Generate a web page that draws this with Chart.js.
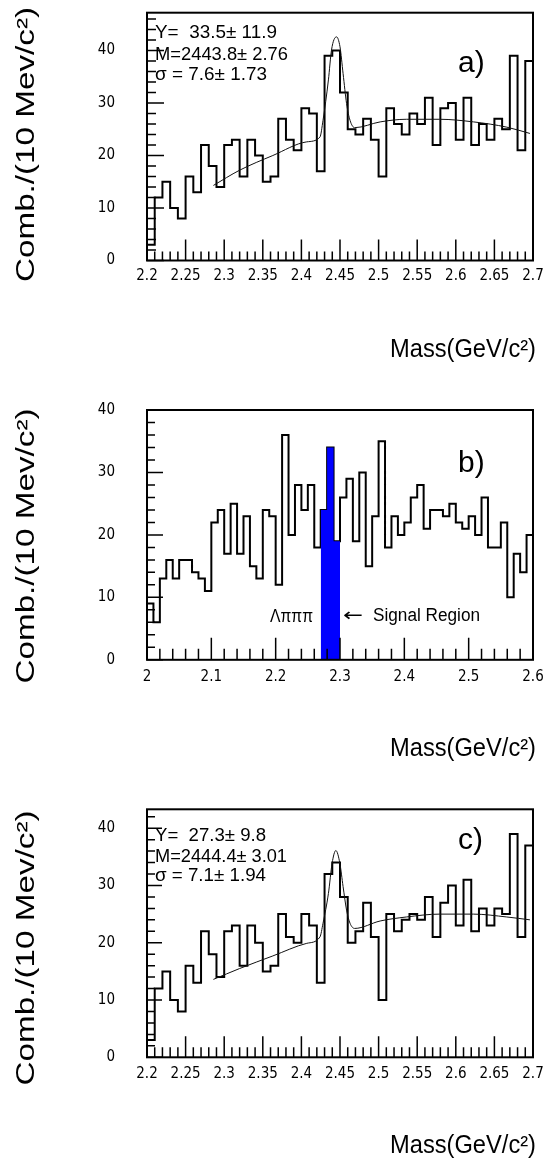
<!DOCTYPE html>
<html>
<head>
<meta charset="utf-8">
<script src="https://cdn.jsdelivr.net/npm/chart.js@4.4.1/dist/chart.umd.min.js"></script>
<style>
html,body{margin:0;padding:0;background:#fff;}
body{width:548px;height:1161px;position:relative;overflow:hidden;}
canvas{position:absolute;left:0;}
</style>
</head>
<body>
<canvas id="ca" width="548" height="380" style="top:0px"></canvas>
<canvas id="cb" width="548" height="390" style="top:380px"></canvas>
<canvas id="cc" width="548" height="391" style="top:770px"></canvas>
<script>
// ---------------- DATA ----------------
const binWidth = 0.01;             // 10 MeV/c^2 bins
// Panel a
const binLowA = 2.2;
const countsA = [3,12,15,10,8,16,13,22,18,14,22,23,16,23,20,15,16,27,23,21,29,28,17,39,40,
                 32,25,24,27,23,16,29,26,24,28,26,31,22,29,30,23,31,22,26,23,27,25,39,21,38];
const fitMassA = [2.286,2.32,2.363,2.407,2.424,2.428,2.435,2.439,2.4455,2.45,2.454,2.4585,2.463,2.469,2.502,2.536,2.579,2.623,2.666,2.696];
const fitValA  = [14.3,17.2,20.0,22.6,23.5,26.7,34.4,40.1,42.6,40.7,35.6,29.9,26.7,25.3,26.4,26.9,26.9,26.4,25.4,24.2];
const statA = ['Y=  33.5\u00b1 11.9', 'M=2443.8\u00b1 2.76', '\u03c3 = 7.6\u00b1 1.73'];
// Panel b
const binLowB = 2.0;
const countsB = [9,6,13,16,13,16,16,14,13,11,22,24,17,25,17,23,15,13,24,23,
                 12,36,20,28,24,28,18,24,34,19,26,29,19,30,15,23,35,18,23,20,
                 22,26,28,21,24,24,23,25,22,21,23,20,26,18,18,22,10,17,14,20];
const signalLo = 2.27, signalHi = 2.30;
// Panel c
const binLowC = 2.2;
const countsC = [3,12,15,10,8,16,13,22,18,14,22,23,16,23,20,15,16,25,21,20,25,23,13,32,34,
                 28,20,22,27,21,10,25,22,24,25,24,28,21,27,30,23,31,22,26,23,26,25,39,21,37];
const fitMassC = [2.286,2.32,2.363,2.407,2.424,2.428,2.435,2.4398,2.4446,2.4498,2.454,2.4585,2.463,2.469,2.502,2.536,2.579,2.623,2.666,2.696];
const fitValC  = [13.6,15.5,17.7,19.9,21.0,23.4,28.6,33.9,36.1,33.9,29.8,25.7,23.4,22.5,23.8,24.5,25.0,25.0,24.5,24.0];
const statC = ['Y=  27.3\u00b1 9.8', 'M=2444.4\u00b1 3.01', '\u03c3 = 7.1\u00b1 1.94'];
// Ticks
const xTicksAC = [2.2,2.25,2.3,2.35,2.4,2.45,2.5,2.55,2.6,2.65,2.7];
const xLabelsAC = ['2.2','2.25','2.3','2.35','2.4','2.45','2.5','2.55','2.6','2.65','2.7'];
const xTicksB = [2.0,2.1,2.2,2.3,2.4,2.5,2.6];
const xLabelsB = ['2','2.1','2.2','2.3','2.4','2.5','2.6'];
const yTicks = [0,10,20,30,40];
const yLabels = ['0','10','20','30','40'];
const yTitle = 'Comb./(10 Mev/c\u00b2)';
const xTitle = 'Mass(GeV/c\u00b2)';

// ---------------- HELPERS ----------------
const TICK_FONT = {family: '"Liberation Sans Narrow", "DejaVu Sans Condensed", "Liberation Sans", sans-serif', size: 15};
const TXT_FONT = '18px "Liberation Sans", Arial, sans-serif';
const BIG_FONT = '30px "Liberation Sans", Arial, sans-serif';
const TITLE_FONT = '26px "Liberation Sans", Arial, sans-serif';
const ARROW_FONT = '18px "DejaVu Sans", sans-serif';

function histPoints(lo, w, counts) {
  const pts = counts.map((c, i) => ({x: lo + i * w, y: c}));
  pts.push({x: lo + counts.length * w, y: counts[counts.length - 1]});
  return pts;
}
function curvePoints(xs, ys) { return xs.map((x, i) => ({x: x, y: ys[i]})); }

function drawText(ctx, t, offY) {
  ctx.save();
  ctx.font = t.font;
  ctx.fillStyle = '#000';
  ctx.textAlign = t.align || 'left';
  ctx.textBaseline = t.baseline || 'middle';
  ctx.translate(t.x, t.y - offY);
  if (t.rotate) ctx.rotate(t.rotate);
  if (t.width) { const w = ctx.measureText(t.text).width; ctx.scale(t.width / w, 1); }
  ctx.fillText(t.text, 0, 0);
  ctx.restore();
}

function overlay(o) {
  return {
    id: 'overlay',
    afterDatasetsDraw(chart) {
      const ctx = chart.ctx, a = chart.chartArea, xs = chart.scales.x, ys = chart.scales.y;
      ctx.save();
      ctx.strokeStyle = '#000';
      ctx.lineWidth = 1.5;
      ctx.beginPath();
      for (let i = 0; ; i++) {
        const v = o.yMin + i * o.yMinor;
        if (v > o.yMax + 1e-9) break;
        const py = ys.getPixelForValue(v);
        const len = (i % o.yRatio === 0) ? o.yMajLen : o.yMinLen;
        ctx.moveTo(a.left, py); ctx.lineTo(a.left + len, py);
      }
      for (let i = 0; ; i++) {
        const v = o.xMin + i * o.xMinor;
        if (v > o.xMax + 1e-9) break;
        const px = xs.getPixelForValue(v);
        const len = (i % o.xRatio === 0) ? o.xMajLen : o.xMinLen;
        ctx.moveTo(px, a.bottom); ctx.lineTo(px, a.bottom - len);
      }
      ctx.stroke();
      ctx.lineWidth = 2;
      ctx.strokeRect(a.left, a.top, a.right - a.left, a.bottom - a.top);
      ctx.restore();
    },
    afterDraw(chart) {
      o.texts.forEach(t => drawText(chart.ctx, t, o.offY));
    }
  };
}

function makeChart(id, o) {
  return new Chart(document.getElementById(id), {
    type: 'line',
    data: {datasets: o.datasets},
    options: {
      responsive: false, animation: false, events: [],
      layout: {padding: {left: 0, right: 15, top: o.padTop, bottom: 0}},
      plugins: {legend: {display: false}, tooltip: {enabled: false}},
      scales: {
        x: {
          type: 'linear', min: o.xMin, max: o.xMax,
          grid: {display: false, drawTicks: false}, border: {display: false},
          afterFit: s => { s.height = o.xAxisH; s.paddingLeft = 0; s.paddingRight = 0; },
          afterBuildTicks: s => { s.ticks = o.xTicks.map(v => ({value: v})); },
          ticks: {autoSkip: false, maxRotation: 0, minRotation: 0, padding: o.xPad, color: '#000', font: TICK_FONT,
                  callback: (v, i) => o.xLabels[i]}
        },
        y: {
          type: 'linear', min: o.yMin, max: o.yMax,
          grid: {display: false, drawTicks: false}, border: {display: false},
          afterFit: s => { s.width = 147; s.paddingTop = 0; s.paddingBottom = 0; },
          afterBuildTicks: s => { s.ticks = yTicks.map(v => ({value: v})); },
          ticks: {autoSkip: false, padding: 32, color: '#000', font: TICK_FONT,
                  callback: (v, i) => yLabels[i]}
        }
      }
    },
    plugins: [overlay(o)]
  });
}

function histDS(lo, counts) {
  return {data: histPoints(lo, binWidth, counts), stepped: true, borderColor: '#000', borderWidth: 2,
          pointRadius: 0, fill: false, order: 1};
}
function fitDS(xs, ys) {
  return {data: curvePoints(xs, ys), borderColor: '#111', borderWidth: 1, pointRadius: 0, fill: false,
          cubicInterpolationMode: 'monotone', order: 0};
}
function titles(yCenter, frameBottom) {
  return [
    {text: yTitle, x: 34, y: yCenter, rotate: -Math.PI / 2, align: 'center', baseline: 'alphabetic', font: TITLE_FONT, width: 275},
    {text: xTitle, x: 536, y: frameBottom + 96, align: 'right', baseline: 'alphabetic', font: TITLE_FONT, width: 146}
  ];
}
function stats(lines, ys, widths) {
  return lines.map((s, i) => ({text: s, x: 155, y: ys[i], font: TXT_FONT, width: widths[i]}));
}

// ---------------- PANEL a ----------------
makeChart('ca', {
  offY: 0, padTop: 12.7, xAxisH: 380 - 260.5, xPad: 7,
  xMin: 2.2, xMax: 2.7, yMin: 0, yMax: 47.2,
  xTicks: xTicksAC, xLabels: xLabelsAC,
  xMinor: 0.01, xRatio: 5, xMajLen: 21, xMinLen: 9,
  yMinor: 2, yRatio: 5, yMajLen: 17, yMinLen: 9,
  datasets: [histDS(binLowA, countsA), fitDS(fitMassA, fitValA)],
  texts: stats(statA, [33, 55, 75], [122, 133, 112]).concat([
    {text: 'a)', x: 458, y: 64, font: BIG_FONT}
  ]).concat(titles(144.5, 260.5))
});

// ---------------- PANEL b ----------------
const sigStart = Math.round((signalLo - binLowB) / binWidth);
const sigEnd = Math.round((signalHi - binLowB) / binWidth);
const sigCounts = countsB.slice(sigStart, sigEnd);
makeChart('cb', {
  offY: 380, padTop: 30, xAxisH: 770 - 659.8, xPad: 8,
  xMin: 2.0, xMax: 2.6, yMin: 0, yMax: 40,
  xTicks: xTicksB, xLabels: xLabelsB,
  xMinor: 0.02, xRatio: 5, xMajLen: 22, xMinLen: 11,
  yMinor: 2, yRatio: 5, yMajLen: 16, yMinLen: 8,
  datasets: [
    histDS(binLowB, countsB),
    {data: histPoints(signalLo, binWidth, sigCounts), stepped: true, fill: 'origin',
     backgroundColor: '#0000ff', borderColor: '#0000ff', borderWidth: 0, pointRadius: 0, order: 0}
  ],
  texts: [
    {text: 'b)', x: 458, y: 464, font: BIG_FONT},
    {text: '\u039b\u03c0\u03c0\u03c0', x: 270, y: 617, font: TXT_FONT, width: 43},
    {text: '\u2190', x: 343, y: 616, font: ARROW_FONT, width: 20},
    {text: 'Signal Region', x: 373, y: 616, font: TXT_FONT, width: 107}
  ].concat(titles(546, 659.8))
});

// ---------------- PANEL c ----------------
makeChart('cc', {
  offY: 770, padTop: 39.3, xAxisH: 1161 - 1057.3, xPad: 8,
  xMin: 2.2, xMax: 2.7, yMin: 0, yMax: 43.3,
  xTicks: xTicksAC, xLabels: xLabelsAC,
  xMinor: 0.01, xRatio: 5, xMajLen: 21, xMinLen: 10,
  yMinor: 2, yRatio: 5, yMajLen: 15, yMinLen: 8,
  datasets: [histDS(binLowC, countsC), fitDS(fitMassC, fitValC)],
  texts: stats(statC, [836, 857, 876], [111, 132, 111]).concat([
    {text: 'c)', x: 458, y: 841, font: BIG_FONT}
  ]).concat(titles(948, 1057.3))
});
</script>
</body>
</html>
